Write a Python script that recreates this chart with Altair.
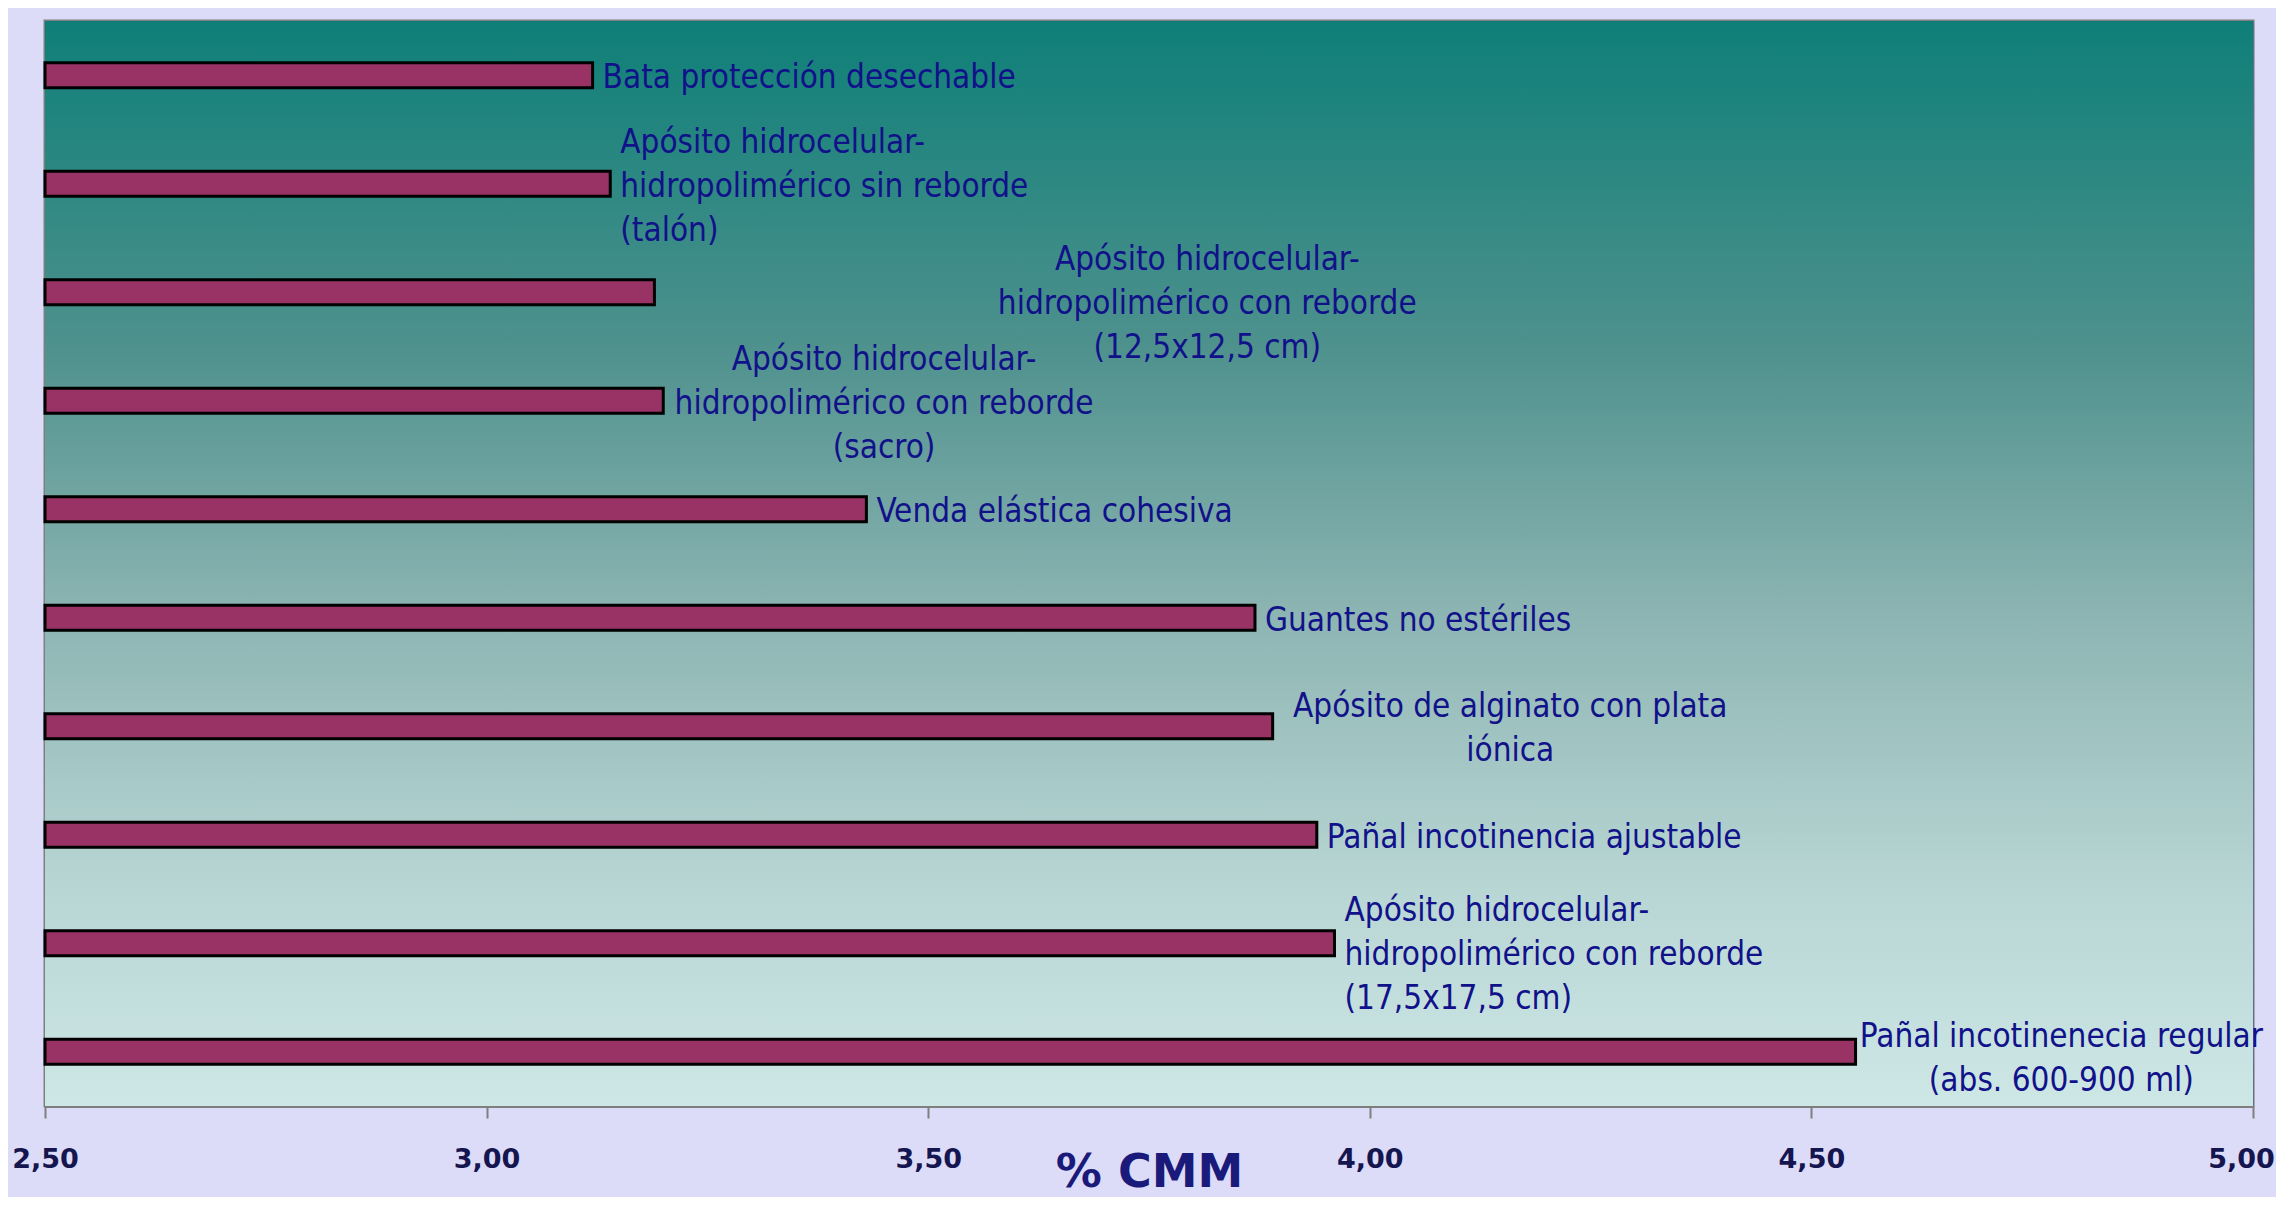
import altair as alt
import pandas as pd

# ---- data ----
categories = [
    "Bata protección desechable",
    "Apósito hidrocelular-hidropolimérico sin reborde (talón)",
    "Apósito hidrocelular-hidropolimérico con reborde (12,5x12,5 cm)",
    "Apósito hidrocelular-hidropolimérico con reborde (sacro)",
    "Venda elástica cohesiva",
    "Guantes no estériles",
    "Apósito de alginato con plata iónica",
    "Pañal incotinencia ajustable",
    "Apósito hidrocelular-hidropolimérico con reborde (17,5x17,5 cm)",
    "Pañal incotinenecia regular (abs. 600-900 ml)",
]
values = [3.12, 3.14, 3.19, 3.20, 3.43, 3.87, 3.89, 3.94, 3.96, 4.55]
label_lines = [
    "Bata protección desechable",
    "Apósito hidrocelular-\nhidropolimérico sin reborde\n(talón)",
    "Apósito hidrocelular-\nhidropolimérico con reborde\n(12,5x12,5 cm)",
    "Apósito hidrocelular-\nhidropolimérico con reborde\n(sacro)",
    "Venda elástica cohesiva",
    "Guantes no estériles",
    "Apósito de alginato con plata\niónica",
    "Pañal incotinencia ajustable",
    "Apósito hidrocelular-\nhidropolimérico con reborde\n(17,5x17,5 cm)",
    "Pañal incotinenecia regular\n(abs. 600-900 ml)",
]
label_align = ["left", "left", "center", "center", "left",
               "left", "center", "left", "left", "center"]
# centre of the centred label blocks, in % CMM units (labels moved in the original)
label_center = [None, None, 3.816, 3.45, None, None, 4.159, None, None, 4.783]
# labels that were dragged slightly downward in the original (px)
label_shift = [0, 0, 9, 0, 0, 0, 0, 0, 9, 4]
x_ticks = [2.5, 3.0, 3.5, 4.0, 4.5, 5.0]

anchor = [c if a == "center" else v for v, a, c in zip(values, label_align, label_center)]
df = pd.DataFrame({
    "cat": categories,
    "value": values,
    "label": label_lines,
    "align": label_align,
    "anchor": anchor,
    "shift": label_shift,
    "nlines": [t.count("\n") + 1 for t in label_lines],
})

W, H = 2208, 1085
LINE_H = 44
LABEL_FONT = "DejaVu Sans Condensed, Liberation Sans Narrow, DejaVu Sans"
LABEL_COLOR = "#11118A"

xscale = alt.Scale(domain=[2.5, 5.0], nice=False, zero=False)
yenc = alt.Y("cat:N", sort=categories, axis=None)

background = alt.Chart(pd.DataFrame({"a": [0]})).mark_rect(
    color=alt.Gradient(
        gradient="linear",
        x1=0, x2=0, y1=0, y2=1,
        stops=[
            alt.GradientStop(offset=0.0, color="#0E7F78"),
            alt.GradientStop(offset=0.3, color="#4E918D"),
            alt.GradientStop(offset=0.55, color="#8DB5B3"),
            alt.GradientStop(offset=0.8, color="#B8D6D4"),
            alt.GradientStop(offset=1.0, color="#CDE7E5"),
        ],
    )
).encode(x=alt.value(0), x2=alt.value(W), y=alt.value(0), y2=alt.value(H))

base = alt.Chart(df)

bars = base.mark_bar(size=25, color="#993366", stroke="#000000", strokeWidth=3).encode(
    x=alt.X(
        "value:Q",
        scale=xscale,
        axis=alt.Axis(
            values=x_ticks,
            labelExpr="replace(format(datum.value, '.2f'), '.', ',')",
            labelFlush=False,
            labelOffset={"condition": {"test": "datum.value >= 5", "value": -12}, "value": 0},
            title="% CMM",
            grid=True,
            gridColor="#5E6E8C",
            gridWidth=1.2,
            domainColor="#7F7F7F",
            domainWidth=3,
            tickColor="#7F7F7F",
            tickWidth=2,
            tickSize=12,
            labelPadding=28,
            labelFont="DejaVu Sans",
            labelFontWeight="bold",
            labelFontSize=27,
            labelColor="#151550",
            titleFont="DejaVu Sans",
            titleFontWeight="bold",
            titleFontSize=46,
            titleColor="#1A1A7A",
            titleY=80,
            titleBaseline="alphabetic",
        ),
    ),
    x2=alt.datum(2.5),
    y=yenc,
)

text_layers = []
groups = df[["align", "nlines", "shift"]].drop_duplicates().itertuples(index=False)
for al, n, sh in groups:
    sub = df[(df["align"] == al) & (df["nlines"] == n) & (df["shift"] == sh)]
    text_layers.append(
        alt.Chart(sub).mark_text(
            align=al, baseline="middle", dx=10 if al == "left" else 0,
            dy=3 + int(sh) - (int(n) - 1) * LINE_H / 2,
            lineBreak="\n", lineHeight=LINE_H,
            font=LABEL_FONT, fontSize=33, color=LABEL_COLOR,
        ).encode(
            x=alt.X("anchor:Q", scale=xscale),
            y=yenc,
            text="label:N",
        )
    )

chart = alt.layer(background, bars, *text_layers).properties(
    width=W,
    height=H,
    background="#DCDCF8",
    padding={"left": 37, "top": 13, "right": 23, "bottom": 91},
    autosize=alt.AutoSizeParams(type="none"),
).configure_view(stroke="#808080", strokeWidth=3)

chart.save("out.html", embed_options={"renderer": "svg", "actions": False})
